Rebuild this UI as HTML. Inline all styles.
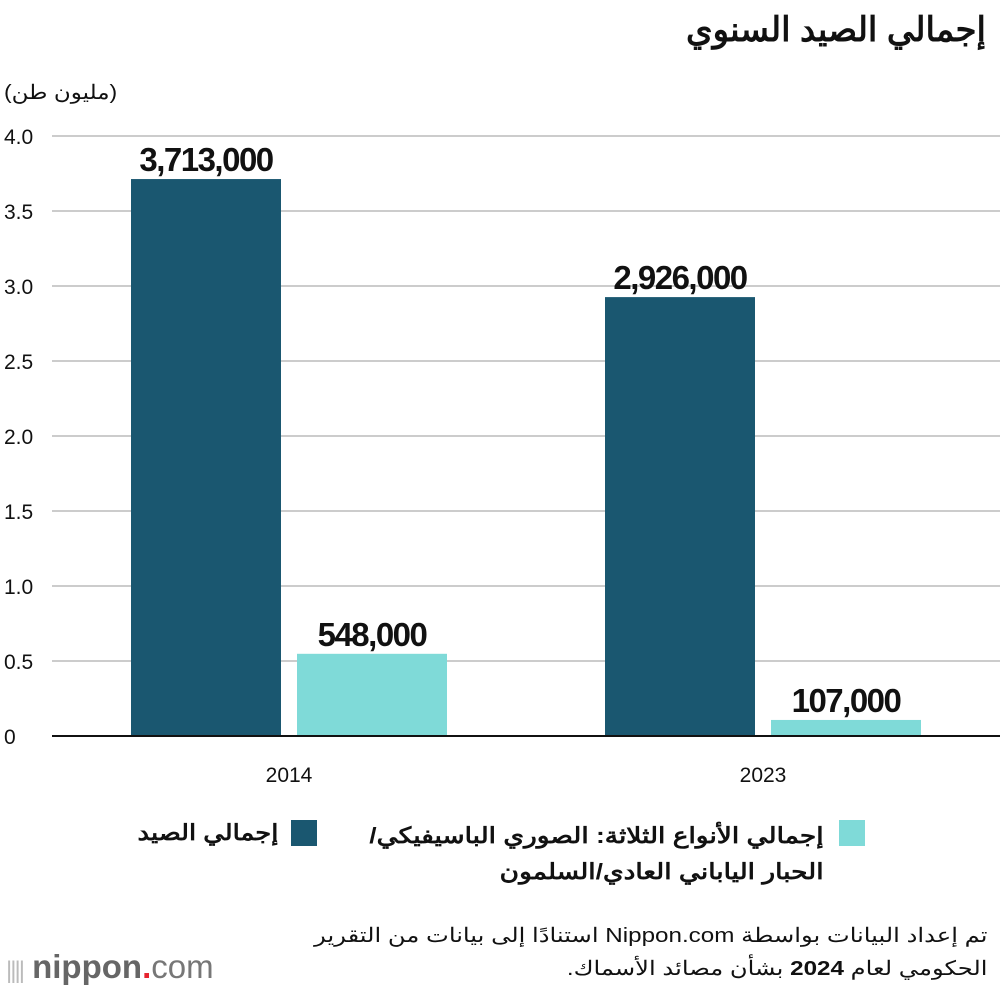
<!DOCTYPE html>
<html><head><meta charset="utf-8"><style>
body{margin:0;width:1000px;height:990px;background:#fff;overflow:hidden;position:relative;font-family:"Liberation Sans","Noto Sans CJK SC",sans-serif}
.t{position:absolute;direction:rtl;color:#111}
</style></head><body>
<div class="t" style="right:14px;top:10px;font-size:34px;font-weight:bold">إجمالي الصيد السنوي</div>
<div class="t" style="left:4px;top:80px;font-size:20px;transform:scaleX(1.15);transform-origin:left">(مليون طن)</div>
<svg id="c" width="1000" height="990" style="position:absolute;left:0;top:0"></svg>
<div class="t" style="right:722px;top:820px;font-size:22px;font-weight:bold;transform:scaleX(1.17);transform-origin:right">إجمالي الصيد</div>
<div style="position:absolute;left:291px;top:820px;width:26px;height:26px;background:#1a5770"></div>
<div class="t" style="right:176px;top:818px;font-size:22px;font-weight:bold;line-height:36px;text-align:right;white-space:nowrap;transform:scaleX(1.2);transform-origin:right">إجمالي الأنواع الثلاثة: الصوري الباسيفيكي/<br>الحبار الياباني العادي/السلمون</div>
<div style="position:absolute;left:839px;top:820px;width:26px;height:26px;background:#7fdad8"></div>
<div class="t" style="right:12px;top:920px;font-size:20px;line-height:33px;white-space:nowrap;text-align:right;transform:scaleX(1.21);transform-origin:right">تم إعداد البيانات بواسطة Nippon.com استنادًا إلى بيانات من التقرير<br>الحكومي لعام <b>2024</b> بشأن مصائد الأسماك.</div>
<div style="position:absolute;left:6px;top:947px;font-size:33px;color:#666;font-family:'Liberation Sans',sans-serif;line-height:40px"><span style="color:#bbb;font-size:24px;letter-spacing:-2px">||||</span>&nbsp;<b>nippon</b><span style="color:#e6232e;font-weight:bold">.</span><span style="font-weight:normal;color:#777">com</span></div>
<script>
const categories=["2014","2023"];
const totalValues=[3.713,2.926];
const speciesValues=[0.548,0.107];
const totalLabels=["3,713,000","2,926,000"];
const speciesLabels=["548,000","107,000"];
const yTicks=[0,0.5,1.0,1.5,2.0,2.5,3.0,3.5,4.0];
const yTickLabels=["0","0.5","1.0","1.5","2.0","2.5","3.0","3.5","4.0"];
const svg=document.getElementById('c');const NS='http://www.w3.org/2000/svg';
const y=v=>736-v*150;
const gx=i=>289+i*474;
function mk(tag,attrs){const e=document.createElementNS(NS,tag);for(const k in attrs)e.setAttribute(k,attrs[k]);svg.appendChild(e);return e;}
yTicks.forEach((t,i)=>{
 if(t>0){const l=mk('line',{x1:52,x2:1000,y1:y(t),y2:y(t),stroke:'#ccc','stroke-width':2});
 
 }
 const tx=mk('text',{x:4,y:y(t)+8,'font-size':21,fill:'#111'});tx.textContent=yTickLabels[i];
 
 
});
categories.forEach((c,i)=>{
 const c0=gx(i);
 const b1=mk('rect',{x:c0-158,y:y(totalValues[i]),width:150,height:totalValues[i]*150,fill:'#1a5770'});
 
 
 const b2=mk('rect',{x:c0+8,y:y(speciesValues[i]),width:150,height:speciesValues[i]*150,fill:'#7fdad8'});
 
 
 const l1=mk('text',{x:c0-83,y:y(totalValues[i])-8,'font-size':33,'font-weight':'bold','text-anchor':'middle',fill:'#111','letter-spacing':'-1.5'});l1.textContent=totalLabels[i];
 
 
 const l2=mk('text',{x:c0+83,y:y(speciesValues[i])-8,'font-size':33,'font-weight':'bold','text-anchor':'middle',fill:'#111','letter-spacing':'-1.5'});l2.textContent=speciesLabels[i];
 
 
 const xl=mk('text',{x:c0,y:782,'font-size':21,'text-anchor':'middle',fill:'#111'});xl.textContent=c;
 
 
});
const ax=mk('line',{x1:52,x2:1000,y1:736,y2:736,stroke:'#111','stroke-width':2});


</script>
</body></html>
